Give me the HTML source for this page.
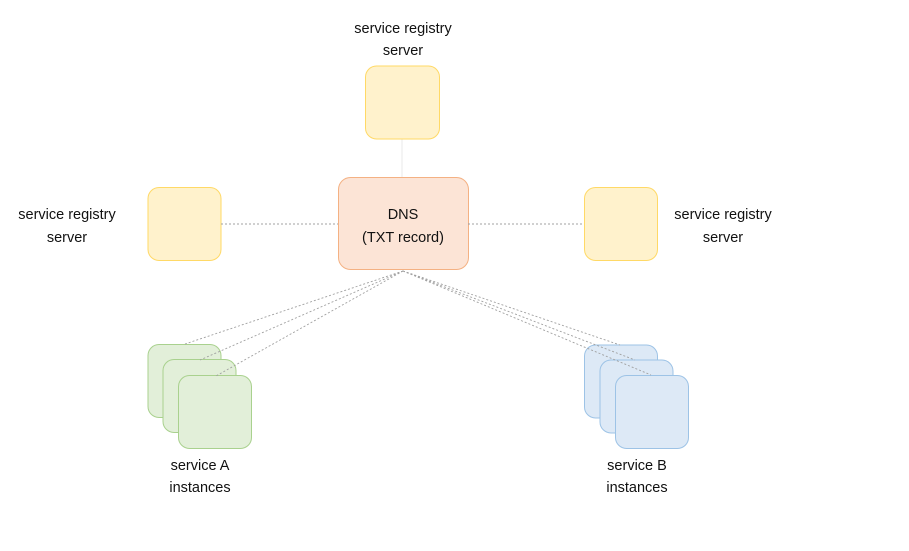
<!DOCTYPE html>
<html><head><meta charset="utf-8"><style>
html,body{margin:0;padding:0;background:#fff;}
svg{display:block;}
text{font-family:"Liberation Sans",sans-serif;font-size:14.5px;fill:#111;text-anchor:middle;}
</style></head><body>
<svg width="909" height="551" viewBox="0 0 909 551" xmlns="http://www.w3.org/2000/svg">
<line x1="402" y1="139" x2="402" y2="177" stroke="#e8e8e8" stroke-width="1"/>
<g fill="#fff2cc" stroke="#ffd966" stroke-width="1">
<rect x="365.5" y="66" width="74" height="73" rx="11"/>
<rect x="148" y="187.5" width="73" height="73" rx="11"/>
<rect x="584.5" y="187.5" width="73" height="73" rx="11"/>
</g>
<rect x="338.5" y="177.5" width="130" height="92" rx="12" fill="#fce4d6" stroke="#f4b183" stroke-width="1"/>
<g fill="#e2efd9" stroke="#a9d18e" stroke-width="1">
<rect x="148" y="344.5" width="73" height="73" rx="11"/>
<rect x="163" y="359.5" width="73" height="73" rx="11"/>
<rect x="178.5" y="375.5" width="73" height="73" rx="11"/>
</g>
<g fill="#dde9f6" stroke="#9dc3e6" stroke-width="1">
<rect x="584.5" y="345" width="73" height="73" rx="11"/>
<rect x="600" y="360" width="73" height="73" rx="11"/>
<rect x="615.5" y="375.5" width="73" height="73" rx="11"/>
</g>
<g stroke="#a0a0a0" stroke-width="0.9" stroke-dasharray="2,2" fill="none">
<line x1="221" y1="224" x2="338" y2="224"/>
<line x1="468" y1="224" x2="584" y2="224"/>
<line x1="403" y1="271" x2="185" y2="344"/>
<line x1="403" y1="271" x2="200" y2="360"/>
<line x1="403" y1="271" x2="216" y2="376"/>
<line x1="403" y1="271" x2="620" y2="345"/>
<line x1="403" y1="271" x2="635" y2="360"/>
<line x1="403" y1="271" x2="651" y2="375"/>
</g>
<text x="403" y="33">service registry</text>
<text x="403" y="55">server</text>
<text x="67" y="219">service registry</text>
<text x="67" y="242">server</text>
<text x="723" y="219">service registry</text>
<text x="723" y="242">server</text>
<text x="403" y="219">DNS</text>
<text x="403" y="242">(TXT record)</text>
<text x="200" y="470">service A</text>
<text x="200" y="492">instances</text>
<text x="637" y="470">service B</text>
<text x="637" y="492">instances</text>
</svg>
</body></html>
